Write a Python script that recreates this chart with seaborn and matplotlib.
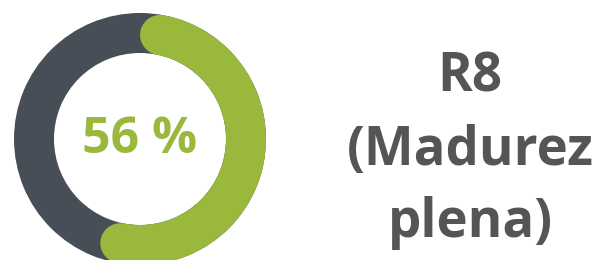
import numpy as np
import matplotlib
matplotlib.use("Agg")
import matplotlib.pyplot as plt
import seaborn as sns

# data
percent = 56
label_lines = ["R8", "(Madurez", "plena)"]

green = "#9AB83C"
dark = "#474E57"
text_gray = "#555555"

sns.set_theme(style="white")
plt.rcParams['font.family'] = ['Open Sans', 'DejaVu Sans']

fig = plt.figure(figsize=(6.01, 2.6), dpi=100)
ax = fig.add_axes([0, 0, 1, 1])

# ring geometry in pixel units
cx, cy = 140, 139
r_out, r_in = 126, 86
ring_w = r_out - r_in
r_mid = (r_out + r_in) / 2

# background ring
ax.pie([100], colors=[dark], radius=r_out, center=(cx, cy),
       wedgeprops=dict(width=ring_w, edgecolor="none"), startangle=90)

# green arc with round caps, kept inside the 56% sweep
cap = np.degrees(np.arcsin((ring_w / 2) / r_mid))
sweep = 360 * percent / 100
ang = np.radians(np.linspace(cap, sweep - cap, 300))
xs = cx + r_mid * np.sin(ang)
ys = cy - r_mid * np.cos(ang)
lw_pt = ring_w * 72 / fig.dpi
ax.plot(xs, ys, color=green, lw=lw_pt, solid_capstyle="round")

ax.set_xlim(0, 601)
ax.set_ylim(260, 0)
ax.set_aspect("equal")
ax.axis("off")

ax.text(cx, 140, f"{percent} %", color=green, fontsize=36, fontweight="bold",
        ha="center", va="center")

baselines = [92, 165, 237]
for line, yb in zip(label_lines, baselines):
    ax.text(470, yb, line, color=text_gray, fontsize=38, fontweight="bold",
            ha="center", va="baseline")

fig.savefig("out.png", dpi=100)
plt.close()
